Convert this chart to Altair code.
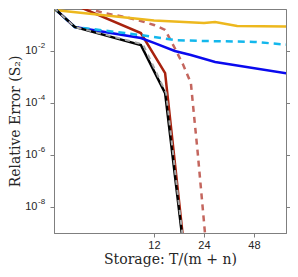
import altair as alt
import pandas as pd

# ---- data ----
black_x = [3, 4, 10, 14, 18.4]
black_y = [0.45, 0.084, 0.017, 2.4e-4, 1e-10]

gray_x = [3, 4, 10.3, 14.2, 18.5]
gray_y = [0.45, 0.084, 0.018, 2.4e-4, 1e-10]

red_x = [4, 10, 14, 18.6]
red_y = [0.59, 0.049, 1.4e-3, 8e-11]

rose_x = [4, 6, 8, 10, 12, 14, 16, 18, 20, 22, 24, 25]
rose_y = [0.59, 0.29, 0.203, 0.143, 0.1, 0.065, 0.013, 2.9e-3, 5.9e-4, 1.2e-6, 2.6e-9, 1.4e-10]

yellow_x = [3, 12, 24, 28, 38, 80]
yellow_y = [0.378, 0.149, 0.119, 0.130, 0.091, 0.0875]

cyan_x = [3, 4, 8, 12, 16, 24, 48, 80]
cyan_y = [0.45, 0.084, 0.049, 0.0347, 0.0263, 0.0243, 0.0224, 0.017]

blue_x = [3, 4, 10, 12, 16, 20, 28, 80]
blue_y = [0.45, 0.084, 0.0316, 0.0204, 0.01, 0.007, 0.0038, 0.0013]

x_ticks = [12, 24, 48]
y_ticks = [1e-8, 1e-6, 1e-4, 1e-2]
y_tick_base = ["10", "10", "10", "10"]
y_tick_exp = ["-8", "-6", "-4", "-2"]

# series: name, xs, ys, color, dash, width (drawing order)
series = [
    ("rose", rose_x, rose_y, "#C4665E", [6, 5], 2.5),
    ("red", red_x, red_y, "#A8220E", None, 2.5),
    ("yellow", yellow_x, yellow_y, "#EDB81E", None, 2.5),
    ("blue", blue_x, blue_y, "#0A0AEE", None, 2.5),
    ("cyan", cyan_x, cyan_y, "#13B7EC", [7, 5], 2.5),
    ("black", black_x, black_y, "#000000", None, 2.5),
    ("gray", gray_x, gray_y, "#A8A8A8", [5, 5], 2.0),
]

rows = []
for name, xs, ys, *_ in series:
    for xv, yv in zip(xs, ys):
        rows.append({"series": name, "x": xv, "y": yv})
df = pd.DataFrame(rows)

exp_df = pd.DataFrame({"y": y_ticks, "base": y_tick_base, "exp": y_tick_exp,
                       "x": [3] * len(y_ticks)})

AX = "#7F7F7F"
TXT = "#262626"
xscale = alt.Scale(type="log", base=2, domain=[3, 74.8], nice=False)
yscale = alt.Scale(type="log", domain=[1e-9, 0.412], nice=False)

x_enc = alt.X("x:Q", scale=xscale, axis=alt.Axis(
    values=x_ticks, format="d", grid=False, domainColor=AX, tickColor=AX,
    tickSize=4, labelPadding=2, labelFont="Liberation Sans", labelFontSize=11,
    labelColor=TXT, title="Storage: T/(m + n)", titleFont="DejaVu Serif",
    titleFontSize=14, titleFontWeight="normal", titleColor=TXT, titlePadding=2))
y_enc = alt.Y("y:Q", scale=yscale, axis=alt.Axis(
    values=y_ticks, labelExpr="'10'", grid=False, domainColor=AX, tickColor=AX,
    tickSize=4, labelPadding=13, labelFont="Liberation Sans", labelFontSize=11,
    labelColor=TXT, title="Relative Error (S₂)", titleFont="DejaVu Serif",
    titleFontSize=14, titleFontWeight="normal", titleColor=TXT, titlePadding=2))

layers = []
for name, xs, ys, color, dash, w in series:
    kw = dict(color=color, strokeWidth=w, clip=True)
    if dash:
        kw["strokeDash"] = dash
    layers.append(
        alt.Chart(df).transform_filter(alt.datum.series == name)
        .mark_line(**kw).encode(x=x_enc, y=y_enc)
    )

exps = alt.Chart(exp_df).mark_text(
    align="left", baseline="middle", dx=-16, dy=-5, fontSize=8,
    font="Liberation Sans", color=TXT, clip=False
).encode(x=x_enc, y=y_enc, text="exp:N")

inner = alt.layer(*layers, exps)

frame = alt.Chart(df).mark_line(opacity=0).encode(
    x=x_enc,
    y=alt.Y("y:Q", scale=yscale, axis=alt.Axis(
        orient="right", values=y_ticks, labels=False, title=None, grid=False,
        domainColor=AX, tickColor=AX, tickSize=4)),
)

chart = alt.layer(inner, frame).resolve_axis(y="independent").properties(
    width=232, height=224,
    autosize=alt.AutoSizeParams(type="none"),
    padding={"left": 46, "top": 1, "right": 4, "bottom": 36},
).configure_view(stroke=AX, strokeWidth=1)

chart.save("out.html", embed_options={"renderer": "svg", "actions": False})
